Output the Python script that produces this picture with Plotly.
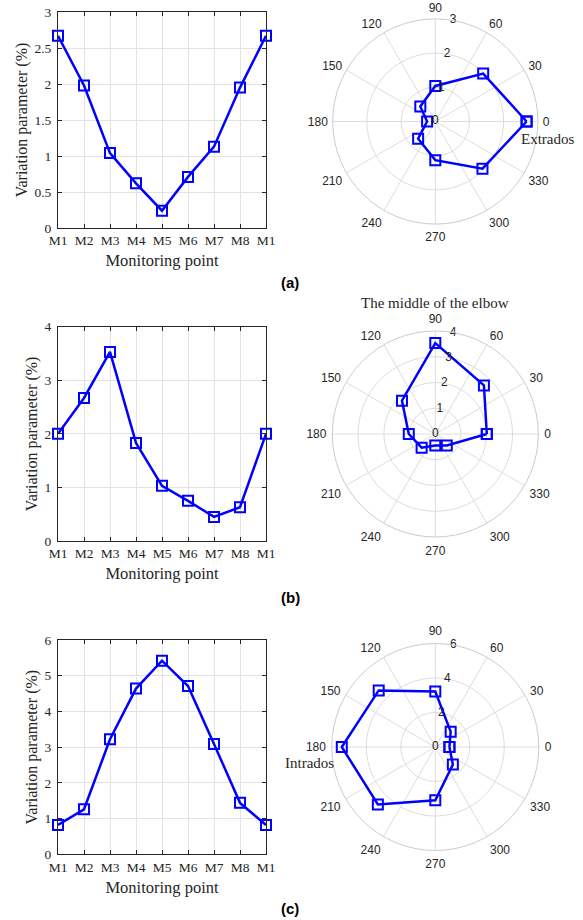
import plotly.graph_objects as go

W, H = 583, 920

# monitoring points around the elbow cross-section (M1 repeated to close the loop)
point_labels = ["M1", "M2", "M3", "M4", "M5", "M6", "M7", "M8", "M1"]
point_angles = [0, 45, 90, 135, 180, 225, 270, 315, 360]

# variation parameter (%) at each monitoring point
values_a = [2.67, 1.98, 1.04, 0.62, 0.24, 0.71, 1.13, 1.95, 2.67]
values_b = [2.00, 2.67, 3.53, 1.83, 1.03, 0.75, 0.45, 0.63, 2.00]
values_c = [0.82, 1.26, 3.22, 4.64, 5.42, 4.71, 3.09, 1.44, 0.82]

y_max = [3, 4, 6]
y_dtick = [0.5, 1, 1]
r_ticks = [[0, 1, 2, 3], [0, 1, 2, 3, 4], [0, 2, 4, 6]]
r_label_angle = 80
panel_tags = ["(a)", "(b)", "(c)"]

BLUE = "#0000FF"
SERIF = "Liberation Serif"
SANS = "Liberation Sans"
TXT = "#262626"


def px_x(p):
    return p / W


def px_y(p):
    return 1 - p / H


# pixel boxes: line plot areas (top, bottom) and polar circles (center y, radius)
line_x = (58, 266)
line_y = [(12, 228), (326.7, 541), (640, 854.3)]
polar_cx = 435.3
polar_c = [(121.5, 102.6), (434, 103), (747, 103.5)]
angular_pad = [2, 3, 3]
tag_y = [282, 597, 908]

fig = go.Figure()
layout = dict(
    width=W, height=H,
    margin=dict(l=0, r=0, t=0, b=0, autoexpand=False),
    paper_bgcolor="white", plot_bgcolor="white",
    showlegend=False,
    annotations=[],
)

series = [values_a, values_b, values_c]
x_pos = list(range(1, len(point_labels) + 1))

for i, vals in enumerate(series):
    n = "" if i == 0 else str(i + 1)
    fig.add_trace(go.Scatter(
        x=x_pos, y=vals, mode="lines+markers",
        line=dict(color=BLUE, width=2.5),
        marker=dict(symbol="square-open", size=10, color=BLUE, line=dict(width=2, color=BLUE)),
        cliponaxis=False,
        xaxis="x" + n, yaxis="y" + n,
    ))
    t, b = line_y[i]
    layout["xaxis" + n] = dict(
        domain=[px_x(line_x[0]), px_x(line_x[1])],
        anchor="y" + n, range=[1, 9], automargin=False,
        tickmode="array", tickvals=x_pos, ticktext=point_labels,
        ticks="inside", ticklen=4, tickcolor=TXT, mirror="ticks",
        showline=True, linecolor=TXT, linewidth=1,
        showgrid=True, gridcolor="#e3e3e3", zeroline=False,
        tickfont=dict(family=SERIF, size=13.5, color=TXT),
        title=dict(text="Monitoring point", font=dict(family=SERIF, size=16.5, color=TXT), standoff=7),
    )
    layout["yaxis" + n] = dict(
        domain=[px_y(b), px_y(t)],
        anchor="x" + n, range=[0, y_max[i]], dtick=y_dtick[i], automargin=False,
        ticks="inside", ticklen=4, tickcolor=TXT, mirror="ticks",
        showline=True, linecolor=TXT, linewidth=1,
        showgrid=True, gridcolor="#e3e3e3", zeroline=False,
        tickfont=dict(family=SERIF, size=13.5, color=TXT),
        ticklabelstandoff=3,
        title=dict(text="Variation parameter (%)", font=dict(family=SERIF, size=16, color=TXT), standoff=2),
    )

    # polar view of the same values
    cy, rad = polar_c[i]
    fig.add_trace(go.Scatterpolar(
        r=vals, theta=point_angles, mode="lines+markers",
        line=dict(color=BLUE, width=2.5),
        marker=dict(symbol="square-open", size=10, color=BLUE, line=dict(width=2, color=BLUE)),
        cliponaxis=False,
        subplot="polar" + n,
    ))
    # radial tick labels centred on the 80-degree spoke
    fig.add_trace(go.Scatterpolar(
        r=r_ticks[i], theta=[r_label_angle] * len(r_ticks[i]), mode="text",
        text=[str(v) for v in r_ticks[i]], textposition="middle center",
        textfont=dict(family=SANS, size=12, color=TXT),
        cliponaxis=False, hoverinfo="skip",
        subplot="polar" + n,
    ))
    layout["polar" + n] = dict(
        domain=dict(x=[px_x(polar_cx - rad), px_x(polar_cx + rad)],
                    y=[px_y(cy + rad), px_y(cy - rad)]),
        bgcolor="white",
        radialaxis=dict(
            range=[0, y_max[i]], tickvals=r_ticks[i], angle=r_label_angle,
            showline=False, ticks="", showticklabels=False,
            gridcolor="#dddddd", gridwidth=1,
        ),
        angularaxis=dict(
            direction="counterclockwise", rotation=0,
            tickmode="array", tickvals=list(range(0, 360, 30)),
            ticktext=[str(a) for a in range(0, 360, 30)],
            ticks="outside", ticklen=angular_pad[i], tickcolor="rgba(0,0,0,0)",
            showline=True, linecolor="#cccccc", linewidth=1,
            gridcolor="#dddddd", gridwidth=1,
            tickfont=dict(family=SANS, size=12, color=TXT),
        ),
    )
    layout["annotations"].append(dict(
        text="<b>%s</b>" % panel_tags[i], x=px_x(290), y=px_y(tag_y[i]),
        xref="paper", yref="paper", xanchor="center", yanchor="middle", showarrow=False,
        font=dict(family=SANS, size=15, color="black"),
    ))

# position markers on the cross-sections
side_labels = [("Extrados", 547, 139), ("The middle of the elbow", 435.3, 303), ("Intrados", 309, 763)]
for txt, lx, ly in side_labels:
    layout["annotations"].append(dict(
        text=txt, x=px_x(lx), y=px_y(ly), xref="paper", yref="paper",
        xanchor="center", yanchor="middle", showarrow=False,
        font=dict(family=SERIF, size=15, color=TXT),
    ))

fig.update_layout(**layout)
fig.write_html("out.html")
